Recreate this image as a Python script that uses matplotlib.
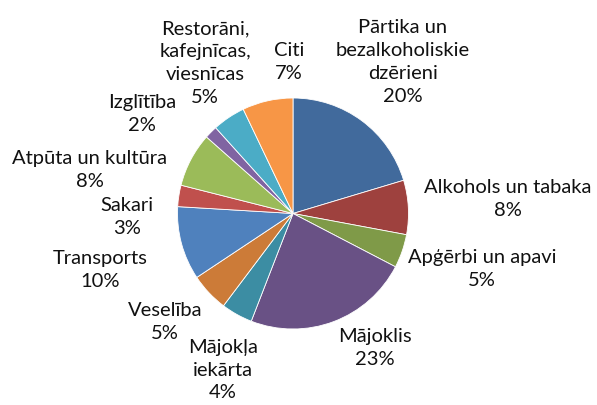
import matplotlib
matplotlib.use("Agg")
import matplotlib.pyplot as plt

# expenditure structure, share of total (%)
categories = [
    "Pārtika un\nbezalkoholiskie\ndzērieni",
    "Alkohols un tabaka",
    "Apģērbi un apavi",
    "Mājoklis",
    "Mājokļa\niekārta",
    "Veselība",
    "Transports",
    "Sakari",
    "Atpūta un kultūra",
    "Izglītība",
    "Restorāni,\nkafejnīcas,\nviesnīcas",
    "Citi",
]
shares = [20.4, 7.6, 4.7, 23.3, 4.4, 5.4, 10.3, 3.0, 7.6, 1.8, 4.6, 7.1]

colors = ["#416a9c", "#9e413e", "#7f9a48", "#695185", "#3c8da3", "#cc7b38",
          "#4f81bd", "#c0504d", "#9bbb59", "#8064a2", "#4bacc6", "#f79646"]

# label block centres in pixels (x, y from top)
label_pos = [(403, 62), (508, 199), (482, 269), (375, 348), (223, 370),
             (165, 322), (100, 270), (127, 217), (90, 170), (142, 114),
             (205, 63), (289, 62)]

W, H = 597, 405
fig = plt.figure(figsize=(W / 100, H / 100), dpi=100)
ax = fig.add_axes([0, 0, 1, 1])
ax.axis("off")

ax.pie(shares, colors=colors, startangle=90, counterclock=False,
       center=(293, H - 213.5), radius=115.5,
       wedgeprops=dict(edgecolor="white", linewidth=0.6))
ax.set_xlim(0, W)
ax.set_ylim(0, H)

total = sum(shares)
for name, val, (x, y) in zip(categories, shares, label_pos):
    txt = f"{name}\n{round(val / total * 100):.0f}%"
    ax.text(x, H - y, txt, ha="center", va="center", fontsize=14.5,
            family="Lato", linespacing=1.42, color="#111111")

fig.savefig("out.png", dpi=100)
